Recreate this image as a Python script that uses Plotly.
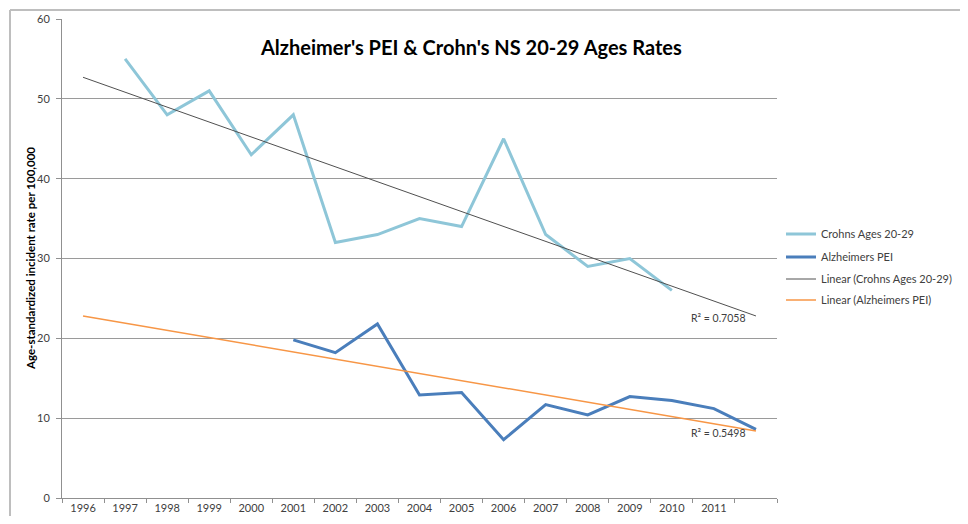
import plotly.graph_objects as go

# ---- data ----
years = [str(y) for y in range(1996, 2013)]
tick_labels = [str(y) for y in range(1996, 2012)] + [""]

crohns_years = [str(y) for y in range(1997, 2011)]
crohns_vals = [55, 48, 51, 43, 48, 32, 33, 35, 34, 45, 33, 29, 30, 26]

alz_years = [str(y) for y in range(2001, 2013)]
alz_vals = [19.8, 18.2, 21.8, 12.9, 13.2, 7.3, 11.7, 10.4, 12.7, 12.2, 11.2, 8.6]

trend_years = ["1996", "2012"]
crohns_trend = [52.7, 22.8]
alz_trend = [22.8, 8.4]

r2_labels = ["R² = 0.7058", "R² = 0.5498"]
r2_y = [22.6, 8.2]

title_text = "Alzheimer's PEI & Crohn's NS 20-29 Ages Rates"
y_title = "Age-standardized incident rate per 100,000"

FONT = "Lato, Carlito, 'Liberation Sans', sans-serif"
TXT = "#404040"

# page offset (body margin) and target pixel geometry in the screenshot
OFF = 8
W, H = 968 - 2 * OFF, 524 - 2 * OFF
L, R, T, B = 62 - OFF, 777 - OFF, 19 - OFF, 498 - OFF


def px(xp):
    return (xp - OFF - L) / (R - L)


def py(yp):
    return (B - (yp - OFF)) / (B - T)


legend_rows = [234, 257, 279, 300]
legend_ids = ["legend", "legend2", "legend3", "legend4"]

fig = go.Figure()
fig.add_trace(go.Scatter(x=crohns_years, y=crohns_vals, mode="lines",
                         name="Crohns Ages 20-29", legend=legend_ids[0],
                         line=dict(color="#8EC6D8", width=3)))
fig.add_trace(go.Scatter(x=alz_years, y=alz_vals, mode="lines",
                         name="Alzheimers PEI", legend=legend_ids[1],
                         line=dict(color="#4A7EBB", width=3)))
fig.add_trace(go.Scatter(x=trend_years, y=crohns_trend, mode="lines",
                         name="Linear (Crohns Ages 20-29)", legend=legend_ids[2],
                         line=dict(color="#505050", width=1)))
fig.add_trace(go.Scatter(x=trend_years, y=alz_trend, mode="lines",
                         name="Linear (Alzheimers PEI)", legend=legend_ids[3],
                         line=dict(color="#F79646", width=1.5)))

for lab, yv in zip(r2_labels, r2_y):
    fig.add_annotation(x=px(718), y=yv, xref="paper", yref="y", text=lab,
                       showarrow=False, xanchor="center", yanchor="middle",
                       font=dict(family=FONT, size=10.5, color=TXT))

# title
fig.add_annotation(x=px(471), y=py(47), xref="paper", yref="paper",
                   text="<b>" + title_text + "</b>", showarrow=False,
                   xanchor="center", yanchor="middle",
                   font=dict(family=FONT, size=20, color="#000000"))

# y-axis title
fig.add_annotation(x=px(30), y=py(259), xref="paper", yref="paper",
                   text="<b>" + y_title + "</b>", showarrow=False, textangle=-90,
                   xanchor="center", yanchor="middle",
                   font=dict(family=FONT, size=11.5, color="#000000"))

# outer frame (top and left edges)
fig.add_shape(type="line", xref="paper", yref="paper", layer="above",
              x0=px(10), x1=px(960), y0=py(10), y1=py(10),
              line=dict(color="#BEBEBE", width=2))
fig.add_shape(type="line", xref="paper", yref="paper", layer="above",
              x0=px(10), x1=px(10), y0=py(10), y1=py(516),
              line=dict(color="#BEBEBE", width=2))

legend_common = dict(xanchor="left", yanchor="middle",
                     font=dict(family=FONT, size=11, color=TXT),
                     bgcolor="rgba(0,0,0,0)", itemwidth=30)

layout_legends = {}
for lid, row in zip(legend_ids, legend_rows):
    layout_legends[lid] = dict(x=px(781), y=py(row), **legend_common)

fig.update_layout(
    width=W, height=H,
    margin=dict(l=L, r=W - R, t=T, b=H - B, autoexpand=False),
    paper_bgcolor="white", plot_bgcolor="white",
    font=dict(family=FONT, size=11, color=TXT),
    showlegend=True,
    xaxis=dict(type="category", categoryorder="array", categoryarray=years,
               range=[-0.5, 16.5], automargin=False,
               tickmode="array", tickvals=years, ticktext=tick_labels,
               tickson="boundaries", ticks="outside", ticklen=4,
               tickcolor="#909090", showline=True, linecolor="#909090",
               linewidth=1, showgrid=False, zeroline=False,
               tickfont=dict(family=FONT, size=11, color=TXT)),
    yaxis=dict(range=[0, 60], dtick=10, tick0=0, ticks="outside", ticklen=5,
               automargin=False, ticklabelstandoff=4,
               tickcolor="#909090", showline=True, linecolor="#909090",
               linewidth=1, showgrid=True, gridcolor="#9A9A9A", gridwidth=1,
               zeroline=False,
               tickfont=dict(family=FONT, size=11, color=TXT)),
    **layout_legends,
)

fig.write_html("out.html")
